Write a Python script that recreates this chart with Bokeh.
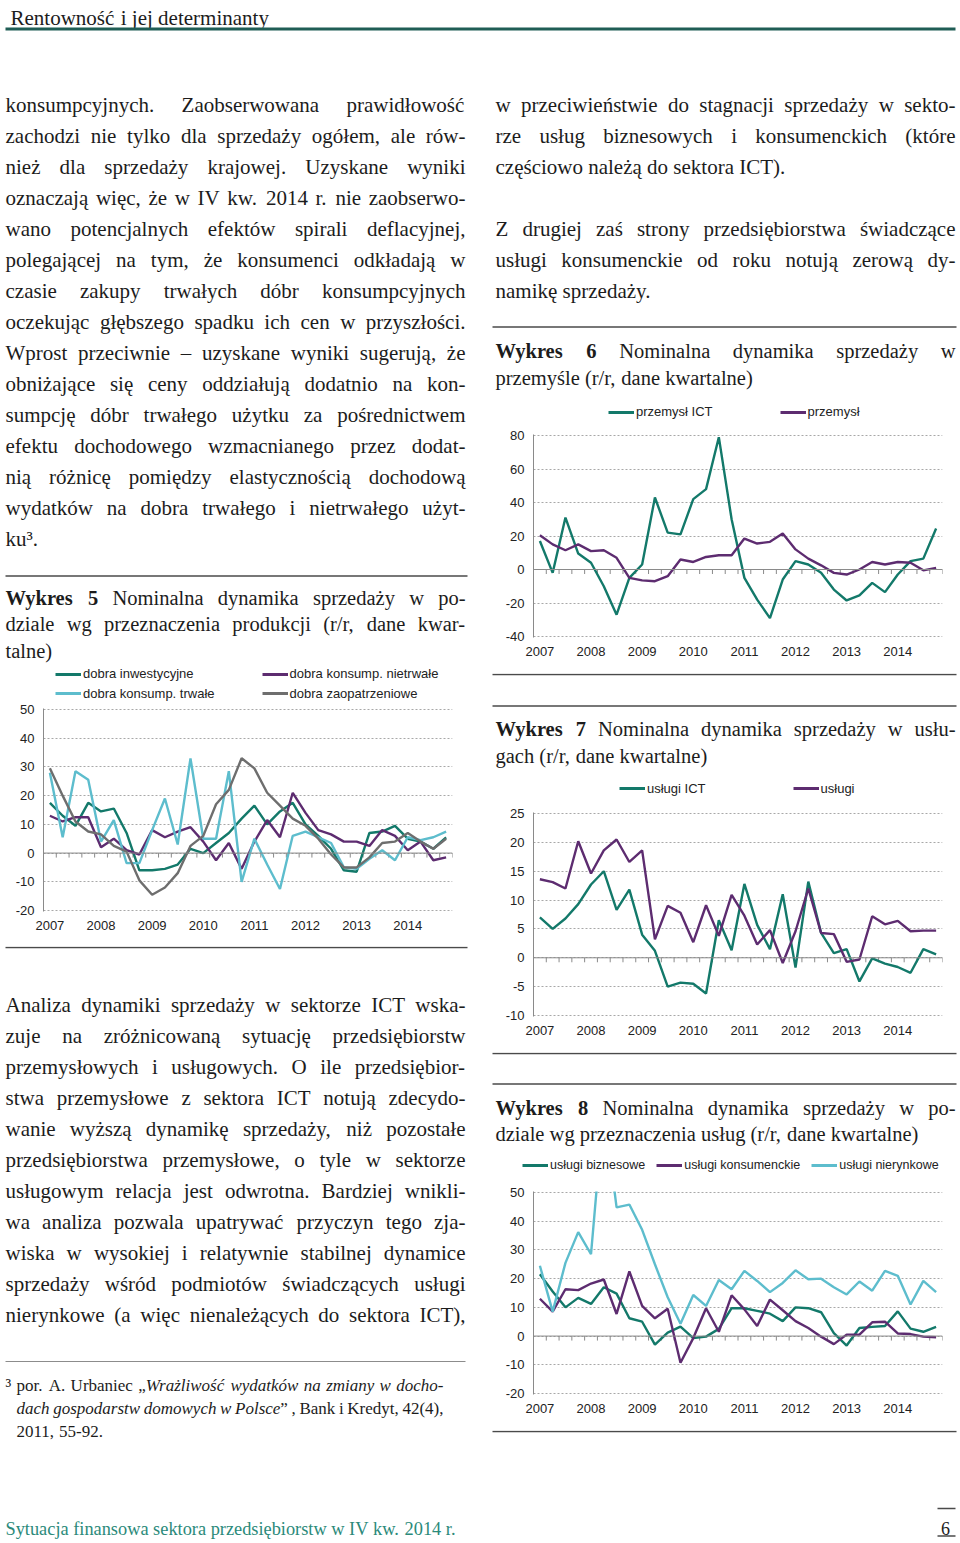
from bokeh.plotting import figure
from bokeh.models import Range1d, FixedTicker, Span, Legend, LegendItem, ColumnDataSource
from bokeh.layouts import column, row
from bokeh.embed import file_html
from bokeh.resources import INLINE
from bokeh.core.properties import value

# ---------------------------------------------------------------- data
YEARS = ["2007", "2008", "2009", "2010", "2011", "2012", "2013", "2014"]

W5_LABELS = ["dobra inwestycyjne", "dobra konsump. nietrwałe",
             "dobra konsump. trwałe", "dobra zaopatrzeniowe"]
W5_INWESTYCYJNE = [17.5, 13, 9.5, 17.5, 14.5, 15.5, 7, -6, -6, -5.5, -4, 1.5, 0, 3.5, 7, 12,
                   16.5, 10, 14.5, 17.5, 10, 6, 1.5, -6, -6.5, 7, 7.5, 9.5, 5, 4, 1.5, 5.5]
W5_NIETRWALE = [13, 11, 12.5, 12.5, 2, 5, 1, -0.5, 8, 5.5, 7.5, 9, 4, -2.5, 3.5, -5.5,
                4, 11.5, 5.5, 21, 14, 8, 6.5, 4, 4, 2.5, 8, 6, 1, 4, -2.5, -1.5]
W5_TRWALE = [28, 5.5, 28.5, 25.5, 4, 11.5, -3.5, -3.5, 8, 19, 3, 33, 5, 5, 28.5, -10,
             5, -4, -12.5, 6, 7.5, 5.5, 3.5, -5, -5.5, -2, 1, -2.5, 5.5, 4.5, 5.5, 7.5]
W5_ZAOPATRZENIOWE = [29.5, 20, 11, 7.5, 6.5, 2.5, 0.5, -9.5, -14.5, -12, -7, 2.5, 6, 17, 22, 33,
                     29.5, 21, 16.5, 12, 9.5, 5, -0.5, -5, -5, -1.5, 3.5, 4, 7, 4, 1.5, 5]

W6_LABELS = ["przemysł ICT", "przemysł"]
W6_PRZEMYSL_ICT = [17, -2, 31, 9.5, 4, -10, -27, -5, 3, 43, 22, 21, 42, 48, 79, 30,
                   -5, -18, -29, -6, 5, 3, -2, -12, -18.5, -15.5, -8, -13.5, -3, 5, 6.5, 24.5]
W6_PRZEMYSL = [20.5, 15, 11.5, 15, 11, 11.5, 7, -5, -6.5, -7, -4, 6, 4.5, 7.5, 8.5, 8.5,
               18.5, 15.5, 16.5, 21.5, 12, 6.5, 2.5, -2, -3, 0, 4.5, 3, 4.5, 4, -0.5, 1]

W7_LABELS = ["usługi ICT", "usługi"]
W7_USLUGI_ICT = [7, 5, 6.8, 9.3, 12.7, 15, 8.3, 11.8, 4, 1.2, -5, -4.3, -4.5, -6.2, 6.5, 1.3,
                 12.8, 5.7, 1.5, 11, -1.7, 13.2, 4.3, 0.8, 1.5, -4.1, -0.1, -1, -1.6, -2.6, 1.5, 0.6]
W7_USLUGI = [13.6, 13.1, 12, 20.2, 14.6, 18.6, 20.5, 16.6, 18.6, 3.2, 9, 7.8, 2.7, 9.1, 3.8, 10.9,
             7.3, 2.3, 4.8, -0.9, 4.6, 12, 4.3, 4.1, -0.7, -0.3, 7.2, 5.8, 6.4, 4.6, 4.7, 4.7]

W8_LABELS = ["usługi biznesowe", "usługi konsumenckie", "usługi nierynkowe"]
W8_BIZNESOWE = [21.5, 15.5, 10, 13.3, 11.2, 17, 14.8, 6.2, 5, -3, 1.2, 3.3, -0.7, -0.2, 2.5, 9.7,
                9.7, 8.8, 7.8, 5.2, 10, 9.7, 8.3, 1, -3.3, 2.8, 3.2, 3.5, 8.6, 2.6, 1.5, 3.2]
W8_KONSUMENCKIE = [13, 8.5, 16.3, 16, 18.3, 19.7, 7.7, 22.5, 10.5, 6.2, 9.5, -9.3, -0.7, 9.7, 1.5, 14.2,
                   9.3, 3.5, 12.7, 9, 5.2, 2.8, -0.2, -2.8, 0.5, 0.5, 4.8, 5, 0.9, 0.7, -0.2, -0.4]
W8_NIERYNKOWE = [24.5, 8.5, 25.5, 36.2, 28.5, 80, 44.8, 45.8, 37, 25, 13.5, 4.3, 14.3, 10.5, 19.5, 16.3,
                 22.7, 19.2, 15.3, 18.5, 22.9, 19.8, 20, 17, 14.5, 19, 15.8, 22.7, 21, 11, 19.2, 15.3]

# ---------------------------------------------------------------- texts
HEADER = "Rentowność i jej determinanty"
FOOTER = "Sytuacja finansowa sektora przedsiębiorstw w IV kw. 2014 r."
PAGE_NO = "6"

LEFT_TEXT_1 = [
    "konsumpcyjnych. Zaobserwowana prawidłowość",
    "zachodzi nie tylko dla sprzedaży ogółem, ale rów-",
    "nież dla sprzedaży krajowej. Uzyskane wyniki",
    "oznaczają więc, że w IV kw. 2014 r. nie zaobserwo-",
    "wano potencjalnych efektów spirali deflacyjnej,",
    "polegającej na tym, że konsumenci odkładają w",
    "czasie zakupy trwałych dóbr konsumpcyjnych",
    "oczekując głębszego spadku ich cen w przyszłości.",
    "Wprost przeciwnie – uzyskane wyniki sugerują, że",
    "obniżające się ceny oddziałują dodatnio na kon-",
    "sumpcję dóbr trwałego użytku za pośrednictwem",
    "efektu dochodowego wzmacnianego przez dodat-",
    "nią różnicę pomiędzy elastycznością dochodową",
    "wydatków na dobra trwałego i nietrwałego użyt-",
    "ku³.",
]
TITLE_5 = ["{b}Wykres 5{r} Nominalna dynamika sprzedaży w po-",
           "dziale wg przeznaczenia produkcji (r/r, dane kwar-",
           "talne)"]
LEFT_TEXT_2 = [
    "Analiza dynamiki sprzedaży w sektorze ICT wska-",
    "zuje na zróżnicowaną sytuację przedsiębiorstw",
    "przemysłowych i usługowych. O ile przedsiębior-",
    "stwa przemysłowe z sektora ICT notują zdecydo-",
    "wanie wyższą dynamikę sprzedaży, niż pozostałe",
    "przedsiębiorstwa przemysłowe, o tyle w sektorze",
    "usługowym relacja jest odwrotna. Bardziej wnikli-",
    "wa analiza pozwala upatrywać przyczyn tego zja-",
    "wiska w wysokiej i relatywnie stabilnej dynamice",
    "sprzedaży wśród podmiotów świadczących usługi",
    "nierynkowe (a więc nienależących do sektora ICT),",
]
FOOTNOTE = ["por. A. Urbaniec „{i}Wrażliwość wydatków na zmiany w docho-",
            "{i}dach gospodarstw domowych w Polsce{r}” , Bank i Kredyt, 42(4),",
            "2011, 55-92."]
RIGHT_TEXT_1 = ["w przeciwieństwie do stagnacji sprzedaży w sekto-",
                "rze usług biznesowych i konsumenckich (które",
                "częściowo należą do sektora ICT)."]
RIGHT_TEXT_2 = ["Z drugiej zaś strony przedsiębiorstwa świadczące",
                "usługi konsumenckie od roku notują zerową dy-",
                "namikę sprzedaży."]
TITLE_6 = ["{b}Wykres 6{r} Nominalna dynamika sprzedaży w",
           "przemyśle (r/r, dane kwartalne)"]
TITLE_7 = ["{b}Wykres 7{r} Nominalna dynamika sprzedaży w usłu-",
           "gach (r/r, dane kwartalne)"]
TITLE_8 = ["{b}Wykres 8{r} Nominalna dynamika sprzedaży w po-",
           "dziale wg przeznaczenia usług (r/r, dane kwartalne)"]

# ---------------------------------------------------------------- styles
SERIF = "Liberation Serif"
SANS = "Liberation Sans"
INK = "#1c1c1c"
RULE = "#4a4a4a"
TEAL_DARK = "#1f5d55"
TEAL = "#2b8a7a"
GREEN = "#13796a"
PURPLE = "#5d2c70"
LBLUE = "#5dbdcd"
GRAY = "#6e6e6e"
AXIS = "#8a8a8a"
GRID = "#a8a8a8"
LINE_W = 2.4

# Times metrics (Liberation Serif is metric compatible)
def _table(spec):
    t = {}
    for chars, w in spec:
        for c in chars:
            t[c] = w
    return t

REG = _table([(" ,.", 250), ("-()", 333), ("/:;", 278), ("0123456789", 500), ("–", 500),
              ("„”", 444), ("³", 300), ("aąceęzźż", 444), ("bdghknńoópquvxy", 500),
              ("fr", 333), ("ijltł", 278), ("sś", 389), ("m", 778), ("w", 722),
              ("ADGHKNOQUVXY", 722), ("BCR", 667), ("EL", 611), ("TZŻ", 611), ("FPSŚ", 556),
              ("I", 333), ("J", 389), ("M", 889), ("W", 944)])
BOLD = _table([(" ", 250), ("0123456789", 500), ("a", 500), ("bdhknpqu", 556), ("ce", 444),
               ("fj", 333), ("gvxy", 500), ("ilł", 278), ("m", 833), ("o", 500), ("r", 444),
               ("s", 389), ("t", 333), ("w", 722), ("z", 444), ("W", 1000)])
ITAL = _table([(" ,.", 250), ("-", 333), ("”„", 556), ("abdghnńoópqu", 500), ("ceęć", 444),
               ("fijltł", 278), ("k", 444), ("m", 722), ("r", 389), ("sśzźż", 389),
               ("vxy", 444), ("w", 667), ("ą", 500), ("P", 611), ("W", 833)])
TABLES = {"r": REG, "b": BOLD, "i": ITAL}
FSTYLE = {"r": "normal", "b": "bold", "i": "italic"}


def width(s, st, size):
    t = TABLES[st]
    return sum(t.get(c, REG.get(c, 500)) for c in s) * size / 1000.0


def parse(line):
    chars = []
    st = "r"
    i = 0
    while i < len(line):
        if line[i] == "{" and i + 2 < len(line) and line[i + 2] == "}":
            st = line[i + 1]
            i += 3
            continue
        chars.append((line[i], st))
        i += 1
    words, cur = [], []
    for ch, s in chars:
        if ch == " ":
            if cur:
                words.append(cur)
                cur = []
        else:
            cur.append((ch, s))
    if cur:
        words.append(cur)
    out = []
    for w in words:
        segs = []
        for ch, s in w:
            if segs and segs[-1][1] == s:
                segs[-1][0] += ch
            else:
                segs.append([ch, s])
        out.append(segs)
    return out


def place(items, line, x0, x1, y, size, justify):
    words = parse(line)
    ws = [sum(width(t, s, size) for t, s in w) for w in words]
    if justify and len(words) > 1:
        gap = (x1 - x0 - sum(ws)) / (len(words) - 1)
    else:
        gap = width(" ", "r", size)
    x = x0
    for w, wd in zip(words, ws):
        xx = x
        for t, s in w:
            items.append((xx, y, t, s, size))
            xx += width(t, s, size)
        x += wd + gap


def paragraph(items, lines, x0, x1, y0, pitch, size, last_left=True):
    for k, ln in enumerate(lines):
        just = not (last_left and k == len(lines) - 1)
        place(items, ln, x0, x1, y0 + k * pitch, size, just)


def draw_items(p, items, color=INK, font=SERIF, align="left"):
    groups = {}
    for x, y, t, s, size in items:
        groups.setdefault((s, size), []).append((x, y, t))
    for (s, size), lst in groups.items():
        src = ColumnDataSource(dict(x=[a[0] for a in lst], y=[a[1] for a in lst],
                                    text=[a[2] for a in lst]))
        p.text(x="x", y="y", text="text", source=src, text_font=value(font),
               text_font_size=value("%.2fpx" % size), text_font_style=FSTYLE[s],
               text_color=color, text_align=align, text_baseline="alphabetic")


def page_fig(x0, y0, x1, y1):
    p = figure(width=int(round(x1 - x0)), height=int(round(y1 - y0)),
               x_range=Range1d(x0, x1), y_range=Range1d(y1, y0),
               x_axis_type=None, y_axis_type=None, toolbar_location=None,
               output_backend="svg", tools="", min_border=0)
    p.outline_line_color = None
    p.background_fill_color = "white"
    p.border_fill_color = "white"
    return p


def rules(p, segs, color=RULE, lw=1.5):
    p.segment(x0=[s[0] for s in segs], y0=[s[2] for s in segs],
              x1=[s[1] for s in segs], y1=[s[2] for s in segs],
              line_color=color, line_width=lw)


def legend_row(p, x0, y1, lx, cy, labels, colors, spacing, size=13, h=16):
    """Chart legend drawn in the page block that sits just above the chart.
    The sample renderers hold a point outside the visible block only so that
    their legend swatch is drawn."""
    rs = [p.line(x=[x0 - 60, x0 - 50], y=[y1 + 60, y1 + 60], line_color=c, line_width=3)
          for c in colors]
    items = [LegendItem(label=l, renderers=[r]) for l, r in zip(labels, rs)]
    leg = Legend(items=items, location=(lx - x0, y1 - (cy + h / 2.0)),
                 orientation="horizontal", spacing=int(round(spacing)), padding=0, margin=0,
                 glyph_width=26, glyph_height=h, label_height=h, label_standoff=2,
                 label_text_font=SANS, label_text_font_size="%gpx" % size,
                 label_text_color="#222222", border_line_color=None,
                 background_fill_alpha=0)
    p.add_layout(leg)


def make_chart(box, frame, yr, step, series, colors):
    fx0, fy0, fx1, fy1 = box
    L, R, T, B = frame
    W = int(round(fx1 - fx0))
    H = int(round(fy1 - fy0))
    lb = int(round(L - fx0))
    rb = int(round(fx1 - R))
    tb = int(round(T - 1 - fy0))
    bb = int(round(fy1 - B - 1))
    fh = H - tb - bb
    ymin, ymax = yr
    upp = (ymax - ymin) / (fh - 2.0)
    n = len(series[0])
    p = figure(width=W, height=H, x_range=Range1d(-0.5, n - 0.5),
               y_range=Range1d(ymin - upp, ymax + upp),
               min_border_left=lb, min_border_right=rb, min_border_top=tb, min_border_bottom=bb,
               toolbar_location=None, output_backend="svg", tools="")
    p.outline_line_color = None
    p.background_fill_color = "white"
    p.border_fill_color = "white"

    # x axis: year labels at first quarter
    xt = FixedTicker(ticks=list(range(0, n, 4)), minor_ticks=[])
    p.xaxis.ticker = xt
    p.xaxis.major_label_overrides = {i * 4: y for i, y in enumerate(YEARS)}
    p.xaxis.axis_line_color = None
    p.xaxis.major_tick_line_color = None
    p.xaxis.minor_tick_line_color = None
    p.xaxis.major_tick_out = 0
    p.xaxis.major_tick_in = 0
    p.xaxis.major_label_standoff = 9
    p.xaxis.major_label_text_font = SANS
    p.xaxis.major_label_text_font_size = "13px"
    p.xaxis.major_label_text_color = "#222222"
    p.xgrid.visible = False

    ticks = list(range(ymin, ymax + 1, step))
    yt = FixedTicker(ticks=ticks, minor_ticks=[])
    p.yaxis.ticker = yt
    p.ygrid.ticker = yt
    p.yaxis.major_label_overrides = {v: str(v) for v in ticks}
    p.yaxis.axis_line_color = AXIS
    p.yaxis.axis_line_width = 1
    p.yaxis.major_tick_line_color = None
    p.yaxis.minor_tick_line_color = None
    p.yaxis.major_tick_out = 0
    p.yaxis.major_tick_in = 0
    p.yaxis.major_label_standoff = 9
    p.yaxis.major_label_text_font = SANS
    p.yaxis.major_label_text_font_size = "13px"
    p.yaxis.major_label_text_color = "#222222"
    p.ygrid.grid_line_color = GRID
    p.ygrid.grid_line_dash = "2 2"
    p.ygrid.grid_line_width = 1

    # zero line with category tick marks
    p.add_layout(Span(location=0, dimension="width", line_color=AXIS, line_width=1))
    bounds = [k - 0.5 for k in range(n + 1)]
    tl = 4.5 * upp
    p.segment(x0=bounds, y0=[0] * len(bounds), x1=bounds, y1=[-tl] * len(bounds),
              line_color=AXIS, line_width=1)

    xs = list(range(n))
    for vals, c in zip(series, colors):
        p.line(xs, vals, line_color=c, line_width=LINE_W)
    return column(p)


BODY = 21
TITLE = 20.5

# ---------------------------------------------------------------- header
hdr = page_fig(0, 0, 960, 40)
items = []
place(items, HEADER, 10, 300, 17.5, 21, False)
draw_items(hdr, items)
rules(hdr, [(5, 955, 28.5)], color=TEAL_DARK, lw=3)

# ---------------------------------------------------------------- left column
LX0, LX1 = 5, 465
SPLIT5 = 701
l1 = page_fig(0, 40, 478, SPLIT5)
items = []
paragraph(items, LEFT_TEXT_1, LX0, LX1, 104, 31, BODY)
paragraph(items, TITLE_5, LX0, LX1, 597, 26.5, TITLE)
draw_items(l1, items)
rules(l1, [(5, 467, 575.5)])
legend_row(l1, 0, SPLIT5, 55, 673.5, W5_LABELS[:2], [GREEN, PURPLE], 68)
legend_row(l1, 0, SPLIT5, 55, 693, W5_LABELS[2:], [LBLUE, GRAY], 47)

c5 = make_chart((0, SPLIT5, 478, 946), (42.7, 451.7, 709.3, 910), (-20, 50), 10,
                [W5_INWESTYCYJNE, W5_NIETRWALE, W5_TRWALE, W5_ZAOPATRZENIOWE],
                [GREEN, PURPLE, LBLUE, GRAY])

l3 = page_fig(0, 946, 478, 1490)
items = []
paragraph(items, LEFT_TEXT_2, LX0, LX1, 1004, 31, BODY, last_left=False)
paragraph(items, FOOTNOTE, 16, 443, 1385, 23, 17)
place(items, "³", 5, 16, 1385, 19, False)
draw_items(l3, items)
rules(l3, [(5, 467, 947)])
rules(l3, [(5, 465, 1361)], color="#8c8c8c", lw=1)

left = column(l1, c5, l3)

# ---------------------------------------------------------------- right column
RX0, RX1 = 495, 955
r1 = page_fig(478, 40, 960, 426)
items = []
paragraph(items, RIGHT_TEXT_1, RX0, RX1, 104, 31, BODY)
paragraph(items, RIGHT_TEXT_2, RX0, RX1, 228, 31, BODY)
paragraph(items, TITLE_6, RX0, RX1, 350, 27, TITLE)
draw_items(r1, items)
rules(r1, [(492, 956, 326.5)])
legend_row(r1, 478, 426, 608, 411.7, W6_LABELS, [GREEN, PURPLE], 67)

c6 = make_chart((478, 426, 960, 673), (533.3, 942, 435, 635.7), (-40, 80), 20,
                [W6_PRZEMYSL_ICT, W6_PRZEMYSL], [GREEN, PURPLE])

r3 = page_fig(478, 673, 960, 804)
items = []
paragraph(items, TITLE_7, RX0, RX1, 728, 27, TITLE)
draw_items(r3, items)
rules(r3, [(492, 956, 674), (492, 956, 705.5)])
legend_row(r3, 478, 804, 619, 788, W7_LABELS, [GREEN, PURPLE], 87)

c7 = make_chart((478, 804, 960, 1052), (533.3, 942, 813.3, 1014.7), (-10, 25), 5,
                [W7_USLUGI_ICT, W7_USLUGI], [GREEN, PURPLE])

r5 = page_fig(478, 1052, 960, 1183)
items = []
paragraph(items, TITLE_8, RX0, RX1, 1107, 26.5, TITLE)
draw_items(r5, items)
rules(r5, [(492, 956, 1053), (492, 956, 1083.5)])
legend_row(r5, 478, 1183, 522, 1165, W8_LABELS, [GREEN, PURPLE, LBLUE], 11, size=12.5)

c8 = make_chart((478, 1183, 960, 1430), (533.3, 942, 1192, 1392.7), (-20, 50), 10,
                [W8_BIZNESOWE, W8_KONSUMENCKIE, W8_NIERYNKOWE], [GREEN, PURPLE, LBLUE])

r7 = page_fig(478, 1430, 960, 1490)
rules(r7, [(492, 956, 1431)])

right = column(r1, c6, r3, c7, r5, c8, r7)

# ---------------------------------------------------------------- footer
ftr = page_fig(0, 1490, 960, 1540)
items = []
fsize = 451 / width(FOOTER, "r", 1.0)
place(items, FOOTER, 5, 460, 1528, fsize, False)
draw_items(ftr, items, color=TEAL)
items = []
place(items, PAGE_NO, 945, 950, 1528, 18, False)
draw_items(ftr, items, align="center")
rules(ftr, [(937, 955, 1508), (937, 955, 1535.5)], color=RULE, lw=1.5)

page = column(hdr, row(left, right), ftr)

open("out.html", "w").write(file_html(page, INLINE))
